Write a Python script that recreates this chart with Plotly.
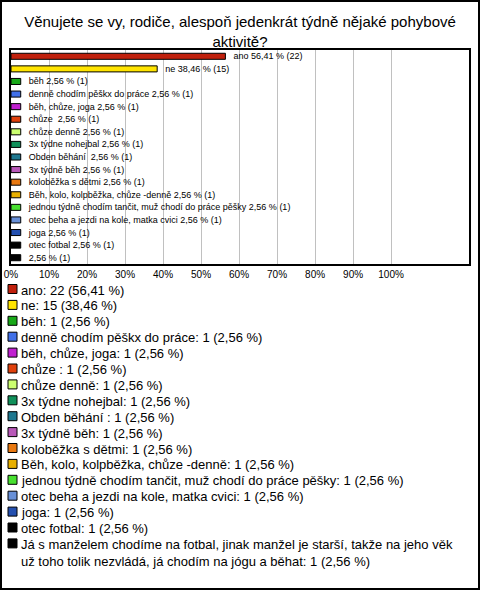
import plotly.graph_objects as go

categories = [
    "ano", "ne", "běh", "denně chodím pěškx do práce", "běh, chůze, joga", "chůze ",
    "chůze denně", "3x týdne nohejbal", "Obden běhání ", "3x týdně běh",
    "koloběžka s dětmi", "Běh, kolo, kolpběžka, chůze -denně",
    "jednou týdně chodím tančit, muž chodí do práce pěšky",
    "otec beha a jezdi na kole, matka cvici", "joga", "otec fotbal",
    "Já s manželem chodíme na fotbal, jinak manžel je starší, takže na jeho věk už toho tolik nezvládá, já chodím na jógu a běhat",
]
counts = [22, 15, 1, 1, 1, 1, 1, 1, 1, 1, 1, 1, 1, 1, 1, 1, 1]
percents = [56.41, 38.46, 2.56, 2.56, 2.56, 2.56, 2.56, 2.56, 2.56, 2.56, 2.56, 2.56, 2.56, 2.56, 2.56, 2.56, 2.56]
colors = [
    "#C0200C", "#FFE400", "#18A818", "#4170E8", "#C020D0", "#E0400C",
    "#CCFF70", "#10905A", "#1E7890", "#B858B8", "#E87810", "#E8B000",
    "#48E030", "#6890D8", "#2450B0", "#000000", "#000000",
]
tick_vals = [0, 10, 20, 30, 40, 50, 60, 70, 80, 90, 100]
tick_text = [f"{v}%" for v in tick_vals]
title_text = "Věnujete se vy, rodiče, alespoň jedenkrát týdně nějaké pohybové<br>aktivitě?"

W, H = 480, 590
ML, MR, MT, MB = 11, 11, 50, 326
PW, PH = W - ML - MR, H - MT - MB


def fmt(p):
    return f"{p:.2f}".replace(".", ",")


def px_x(x):
    return (x - ML) / PW


def px_y(y):
    return (H - MB - y) / PH


chart_names = categories[:-1] + [""]
bar_text = ["\u00a0\u00a0" + (f"{n} " if n else "") + f"{fmt(p)} % ({c})"
            for n, p, c in zip(chart_names, percents, counts)]

idx = list(range(len(categories)))

fig = go.Figure()
fig.add_trace(go.Bar(
    x=percents, y=idx, orientation="h",
    marker=dict(color=colors, line=dict(color="#000000", width=1)),
    width=0.48,
    text=bar_text, textposition="outside", constraintext="none",
    outsidetextfont=dict(size=9, color="#000000", family="Liberation Sans, Arial"),
    cliponaxis=False, showlegend=False, hoverinfo="skip",
))

shapes = []
annotations = []
# legend
y0 = 289
step = 15.9
for i, (n, p, c, col) in enumerate(zip(categories, percents, counts, colors)):
    yc = y0 + i * step
    label = f"{n}: {c} ({fmt(p)} %)"
    if len(label) > 75:
        words = label.split(" ")
        line1, rest = "", []
        for k, w in enumerate(words):
            if len(line1) + len(w) + 1 > 74:
                rest = words[k:]
                break
            line1 = (line1 + " " + w).strip()
        label = line1 + "<br>" + " ".join(rest)
    shapes.append(dict(type="rect", xref="paper", yref="paper",
                       x0=px_x(8), x1=px_x(17), y0=px_y(yc + 4.5), y1=px_y(yc - 4.5),
                       fillcolor=col, line=dict(color="#000000", width=1)))
    annotations.append(dict(xref="paper", yref="paper", x=px_x(19), y=px_y(yc - 8.5),
                            xanchor="left", yanchor="top", align="left", showarrow=False,
                            text=label, font=dict(size=13, color="#000000",
                                                  family="Liberation Sans, Arial")))

# outer frame
shapes.append(dict(type="rect", xref="paper", yref="paper", layer="above",
                   x0=px_x(1), x1=px_x(479), y0=px_y(589), y1=px_y(1),
                   line=dict(color="#000000", width=2), fillcolor="rgba(0,0,0,0)"))

fig.update_layout(
    width=W, height=H,
    margin=dict(l=ML, r=MR, t=MT, b=MB, pad=0, autoexpand=False),
    paper_bgcolor="#FFFFFF", plot_bgcolor="#FFFFFF",
    font=dict(family="Liberation Sans, Arial", color="#000000"),
    title=dict(text=title_text, x=0.5, xanchor="center", xref="paper",
               y=1 - 27 / H, yanchor="middle", yref="container",
               font=dict(size=15, color="#000000", family="Liberation Sans, Arial")),
    xaxis=dict(range=[0, 120.5], tickvals=tick_vals, ticktext=tick_text,
               showgrid=True, gridcolor="#C0C0C0", gridwidth=1, zeroline=False,
               showline=True, mirror=True, linecolor="#000000", linewidth=2,
               ticks="", tickfont=dict(size=10, color="#000000"), fixedrange=True,
               automargin=False),
    yaxis=dict(range=[len(categories) - 0.5, -0.5], showticklabels=False,
               showgrid=False, zeroline=False, showline=True, mirror=True,
               linecolor="#000000", linewidth=2, ticks="", fixedrange=True,
               automargin=False),
    bargap=0.5,
    shapes=shapes, annotations=annotations,
    showlegend=False,
)

fig.write_html("out.html", config={"displayModeBar": False},
               post_script="document.body.style.margin='0';document.body.style.padding='0';"
                           "document.documentElement.style.overflow='hidden';")
